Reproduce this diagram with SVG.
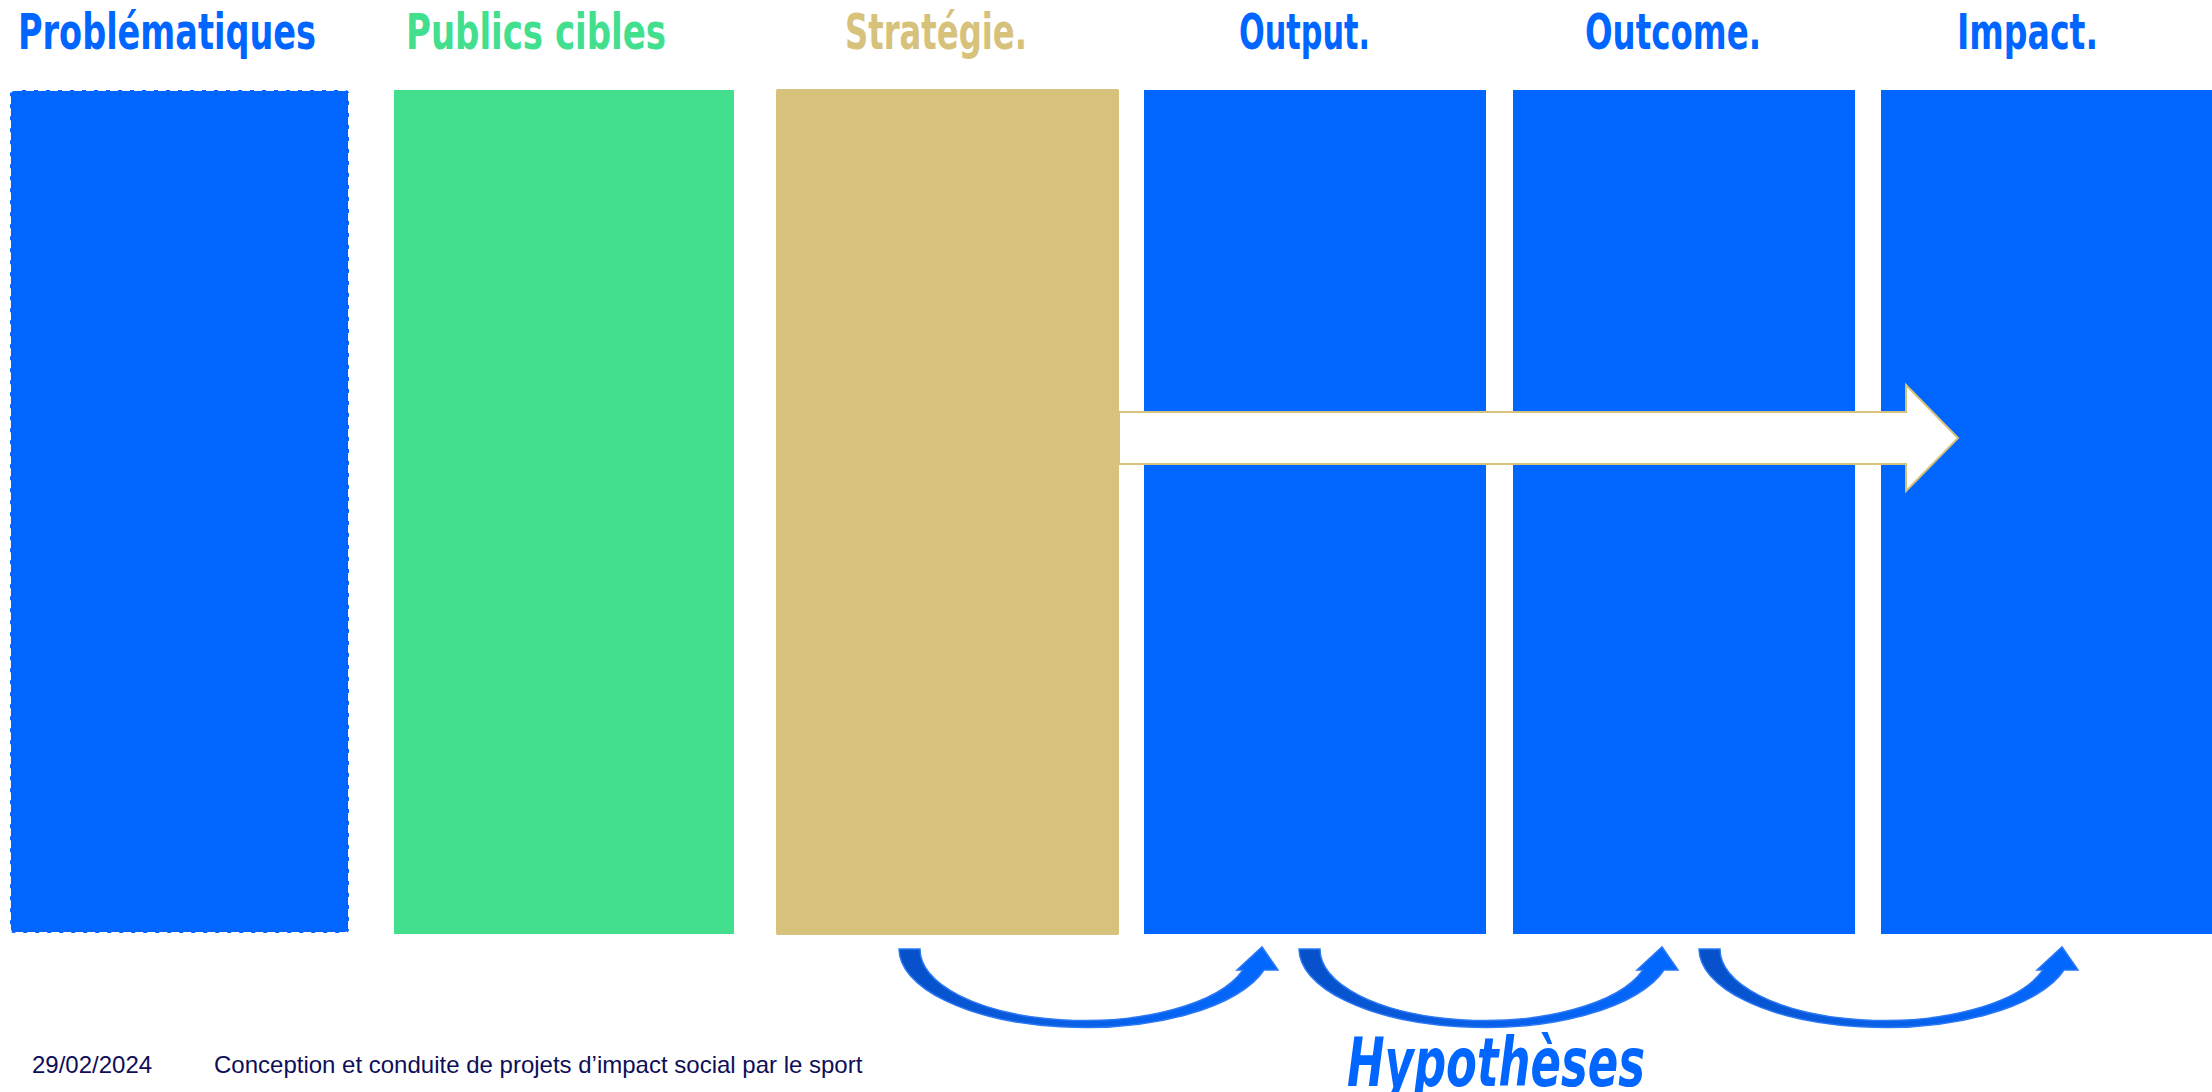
<svg xmlns="http://www.w3.org/2000/svg" width="2212" height="1092" viewBox="0 0 2212 1092">
  <style>
    .title { font-family: "Liberation Sans Narrow", "DejaVu Sans Condensed", "Liberation Sans", sans-serif; font-weight: bold; font-size: 50px; }
    .blue { fill: #0066FF; }
    .green { fill: #41DF8E; }
    .gold { fill: #D6C27A; }
    .footer { font-family: "Liberation Sans", Arial, sans-serif; font-size: 24px; fill: #0E0E58; }
    .hyp { font-family: "Liberation Sans Narrow", "DejaVu Sans Condensed", "Liberation Sans", sans-serif; font-weight: bold; font-style: italic; font-size: 68px; fill: #0066FF; }
    .curved { fill: url(#cgrad); stroke: #2b78f5; stroke-width: 1.5; }
  </style>
  <defs>
    <linearGradient id="cgrad" x1="0" y1="0" x2="1" y2="0">
      <stop offset="0" stop-color="#0650C8"/>
      <stop offset="0.45" stop-color="#0A5FE6"/>
      <stop offset="1" stop-color="#0068FF"/>
    </linearGradient>
    <path id="carrow" d="M899,949 A186,79 0 0 0 1264,970 L1278,970 L1262,947 L1237,970 L1243,970 A165,71 0 0 1 920,949 Z"/>
  </defs>
  <rect width="2212" height="1092" fill="#FFFFFF"/>

  <g id="col-problematiques">
    <text class="title blue" x="18" y="49" textLength="298" lengthAdjust="spacingAndGlyphs">Problématiques</text>
    <rect x="10" y="90" width="339" height="843" rx="4" fill="#0066FF" stroke="#FFFFFF" stroke-width="2" stroke-dasharray="8 4"/>
  </g>
  <g id="col-publics">
    <text class="title green" x="406" y="49" textLength="260" lengthAdjust="spacingAndGlyphs">Publics cibles</text>
    <rect x="394" y="90" width="340" height="844" fill="#41DF8E"/>
  </g>
  <g id="col-strategie">
    <text class="title gold" x="845" y="49" textLength="182" lengthAdjust="spacingAndGlyphs">Stratégie.</text>
    <rect x="776" y="89" width="343" height="846" rx="2" fill="#D6C27A"/>
  </g>
  <g id="col-output">
    <text class="title blue" x="1239" y="49" textLength="131" lengthAdjust="spacingAndGlyphs">Output.</text>
    <rect x="1144" y="90" width="342" height="844" fill="#0066FF"/>
  </g>
  <g id="col-outcome">
    <text class="title blue" x="1585" y="49" textLength="176" lengthAdjust="spacingAndGlyphs">Outcome.</text>
    <rect x="1513" y="90" width="342" height="844" fill="#0066FF"/>
  </g>
  <g id="col-impact">
    <text class="title blue" x="1957" y="49" textLength="141" lengthAdjust="spacingAndGlyphs">Impact.</text>
    <rect x="1881" y="90" width="331" height="844" fill="#0066FF"/>
  </g>

  <g id="connectors">
    <path d="M1119,412 L1906,412 L1906,385 L1958,438 L1906,491 L1906,464 L1119,464 Z" fill="#FFFFFF" stroke="#D6C27A" stroke-width="2" stroke-linejoin="miter"/>
    <use href="#carrow" class="curved"/>
    <use href="#carrow" class="curved" transform="translate(400,0)"/>
    <use href="#carrow" class="curved" transform="translate(800,0)"/>
  </g>

  <g id="label-hypotheses">
    <text class="hyp" x="1347" y="1086" textLength="298" lengthAdjust="spacingAndGlyphs">Hypothèses</text>
  </g>

  <g id="footer">
    <text class="footer" x="32" y="1073">29/02/2024</text>
    <text class="footer" x="214" y="1073">Conception et conduite de projets d’impact social par le sport</text>
  </g>
</svg>
